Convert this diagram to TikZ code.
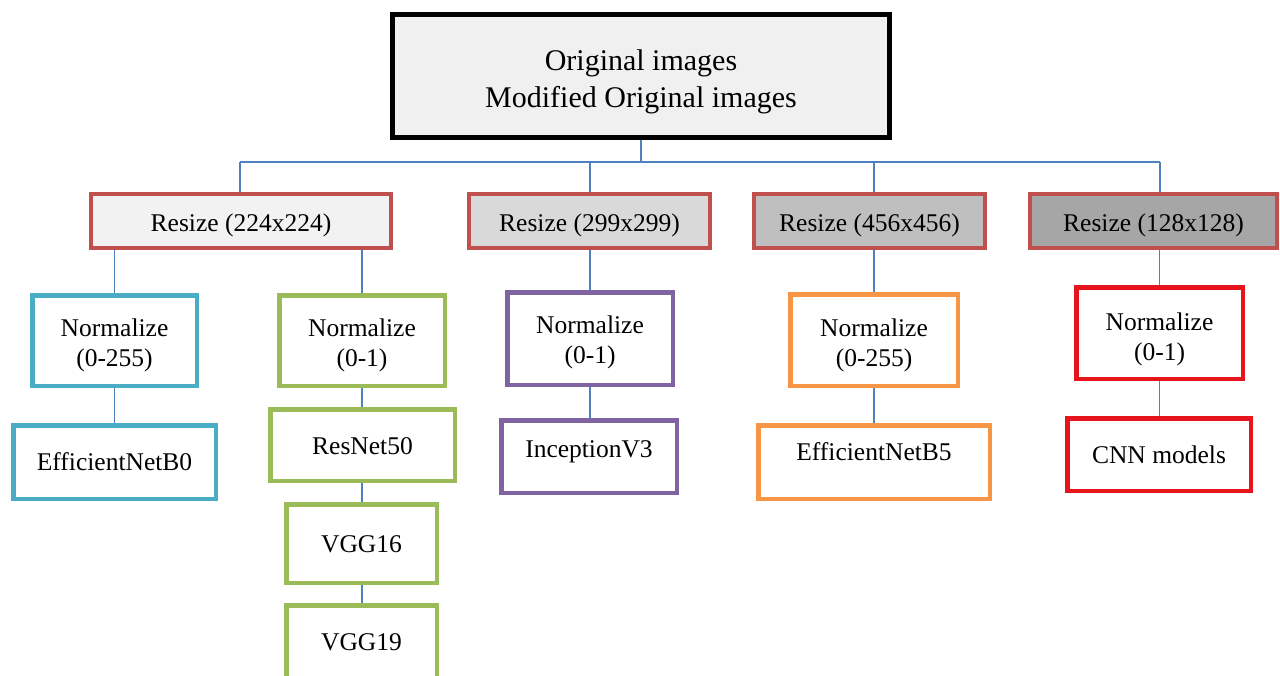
\documentclass[tikz,border=0pt]{standalone}
\usepackage{fontspec}
\setmainfont{Liberation Serif}
\definecolor{titlefill}{HTML}{F0F0F0}
\definecolor{titleborder}{HTML}{000000}
\definecolor{resizeborder}{HTML}{C0504D}
\definecolor{resizefillA}{HTML}{F2F2F2}
\definecolor{resizefillB}{HTML}{D9D9D9}
\definecolor{resizefillC}{HTML}{BFBFBF}
\definecolor{resizefillD}{HTML}{A6A6A6}
\definecolor{blueborder}{HTML}{4BACC6}
\definecolor{greenborder}{HTML}{9BBB59}
\definecolor{purpleborder}{HTML}{8064A2}
\definecolor{orangeborder}{HTML}{F79646}
\definecolor{redborder}{HTML}{E8141B}
\definecolor{linkline}{HTML}{4F81BD}
% text block, moved up or down without changing the box size
\newcommand{\boxtext}[2][-3pt]{\raisebox{#1}[\height][\depth]{\begin{tabular}{@{}c@{}}#2\end{tabular}}}
\tikzset{
  box/.style={
    rectangle,
    align=center,
    inner sep=0pt,
    fill=white,
    line width=4.5pt,
    font=\fontsize{25.5}{30}\selectfont
  },
  titlebox/.style={box, fill=titlefill, draw=titleborder, line width=5pt, font=\fontsize{30}{37}\selectfont},
  resize/.style={box, draw=resizeborder, line width=4pt, minimum height=54pt},
  normA/.style={box, draw=blueborder},
  normB/.style={box, draw=greenborder},
  normC/.style={box, draw=purpleborder},
  normD/.style={box, draw=orangeborder},
  normE/.style={box, draw=redborder},
  link/.style={line width=1.5pt, draw=linkline}
}

\begin{document}
\begin{tikzpicture}[x=1pt, y=-1pt]
\clip (0,0) rectangle (1280,675);
\fill[white] (0,0) rectangle (1280,675);

% Source images.
\node[titlebox, minimum width=497pt, minimum height=123pt] (source) at (641,76) {\boxtext[-6pt]{Original images\\Modified Original images}};

% Resize stage.
\node[resize, fill=resizefillA, minimum width=300pt] (resizeA) at (241,221) {\boxtext[-4pt]{Resize (224x224)}};
\node[resize, fill=resizefillB, minimum width=241pt] (resizeB) at (589.5,221) {\boxtext[-4pt]{Resize (299x299)}};
\node[resize, fill=resizefillC, minimum width=231pt] (resizeC) at (869.5,221) {\boxtext[-4pt]{Resize (456x456)}};
\node[resize, fill=resizefillD, minimum width=247pt] (resizeD) at (1153.5,221) {\boxtext[-4pt]{Resize (128x128)}};

% Normalize stage.
\node[normA, minimum width=164.5pt, minimum height=90.5pt] (normA) at (114.5,340.5) {\boxtext[-5pt]{Normalize\\(0-255)}};
\node[normB, minimum width=165.5pt, minimum height=90.5pt] (normB) at (362,340.5) {\boxtext[-5pt]{Normalize\\(0-1)}};
\node[normC, minimum width=165.5pt, minimum height=92.5pt] (normC) at (590,338.5) {\boxtext[-4pt]{Normalize\\(0-1)}};
\node[normD, minimum width=167.5pt, minimum height=91.5pt] (normD) at (874,340) {\boxtext[-5pt]{Normalize\\(0-255)}};
\node[normE, minimum width=166.5pt, minimum height=91.5pt] (normE) at (1159.5,333) {\boxtext[-6pt]{Normalize\\(0-1)}};

% Models.
\node[normA, minimum width=202.5pt, minimum height=73.5pt] (effbzero) at (114.5,462) {\boxtext[-2pt]{EfficientNetB0}};
\node[normB, minimum width=184.5pt, minimum height=71.5pt] (resnet) at (362.5,445) {\boxtext{ResNet50}};
\node[normB, minimum width=150.5pt, minimum height=78.5pt] (vggsixteen) at (361.5,543.5) {\boxtext{VGG16}};
\node[normB, minimum width=150.5pt, minimum height=82.5pt] (vggnineteen) at (361.5,646.5) {\boxtext[2pt]{VGG19}};
\node[normC, minimum width=175.5pt, minimum height=72.5pt] (inception) at (589,456.5) {\boxtext[5pt]{InceptionV3}};
\node[normD, minimum width=231.5pt, minimum height=73.5pt] (effbfive) at (874,462) {\boxtext[8pt]{EfficientNetB5}};
\node[normE, minimum width=183.5pt, minimum height=72.5pt] (cnn) at (1159,454.5) {\boxtext{CNN models}};

% Bus below the source box.
\coordinate (busleft) at (240,162);
\coordinate (busright) at (1160,162);
\draw[link] (source.south) -- (source.south |- busleft);
\draw[link] (busleft) -- (busright);
\draw[link] (busleft) -- (busleft |- resizeA.north);
\draw[link] (normC.north |- busleft) -- (normC.north |- resizeB.north);
\draw[link] (normD.north |- busleft) -- (normD.north |- resizeC.north);
\draw[link] (busright) -- (busright |- resizeD.north);

% Resize to normalize.
\draw[link] (normA.north |- resizeA.south) -- (normA.north);
\draw[link] (normB.north |- resizeA.south) -- (normB.north);
\draw[link] (normC.north |- resizeB.south) -- (normC.north);
\draw[link] (normD.north |- resizeC.south) -- (normD.north);
\draw[link] (normE.north |- resizeD.south) -- (normE.north);

% Normalize to models.
\draw[link] (normA.south) -- (normA.south |- effbzero.north);
\draw[link] (normB.south) -- (normB.south |- resnet.north);
\draw[link] (normB.south |- resnet.south) -- (normB.south |- vggsixteen.north);
\draw[link] (normB.south |- vggsixteen.south) -- (normB.south |- vggnineteen.north);
\draw[link] (normC.south) -- (normC.south |- inception.north);
\draw[link] (normD.south) -- (normD.south |- effbfive.north);
\draw[link] (normE.south) -- (normE.south |- cnn.north);

\end{tikzpicture}
\end{document}
